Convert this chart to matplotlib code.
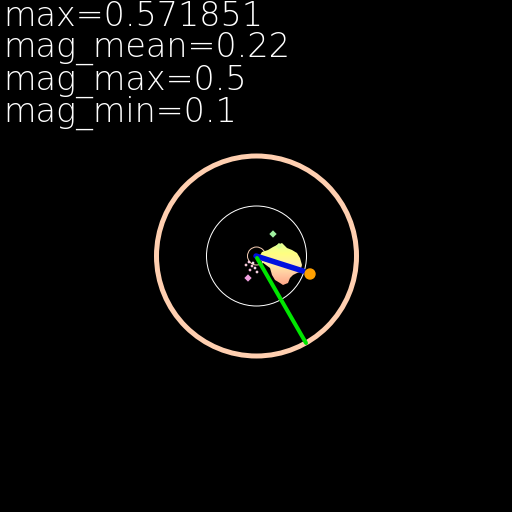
import numpy as np
import matplotlib
matplotlib.use("Agg")
import matplotlib.pyplot as plt
from matplotlib.patches import Circle, Polygon
from matplotlib.colors import LinearSegmentedColormap

# stats printed in the top-left corner
labels = ["max=0.571851", "mag_mean=0.22", "mag_max=0.5", "mag_min=0.1"]
last_baseline = 122

# everything below is in image pixels (origin top-left)
center = (256.5, 256)
ring_radii = [100, 50, 9]
ring_colors = ["#ffcfb0", "white", "#f5cdb4"]
ring_widths = [5, 1, 1]

# outline of the flow blob
blob_x = [259, 262, 268, 273, 277, 282, 287, 292, 297, 300, 302, 300, 297,
          293, 290, 288, 283, 280, 275, 272, 270, 262]
blob_y = [257, 252, 250, 247, 245, 243, 248, 250, 253, 258, 265, 272, 273,
          275, 278, 283, 285, 283, 280, 275, 268, 262]

# stray points
dots_x = [273, 279, 248, 249, 252, 255, 250, 257, 253, 246]
dots_y = [234, 246, 278, 262, 266, 268, 270, 272, 263, 265]
dots_c = ["#a0f0a0", "#d8ff90", "#f0a0e0", "#ffd0e8", "#ffc8e0", "#ffe0f0",
          "#ffc0e0", "#ffd8e8", "#ffe8f0", "#ffd0e0"]
dots_s = [14, 10, 14, 3, 3, 3, 3, 3, 3, 3]

# mean vector (blue) and max vector (green)
mean_vec = ((256, 303), (256, 271))
max_vec = ((257, 306), (258, 343))
mean_tip = (310, 274)

fig = plt.figure(figsize=(5.12, 5.12), dpi=100, facecolor="black")
ax = fig.add_axes([0, 0, 1, 1])
ax.set_facecolor("black")
ax.set_xlim(0, 512)
ax.set_ylim(512, 0)
ax.set_aspect("equal")
ax.axis("off")

px = 72.0 / 100  # points per pixel

for r, c, w in zip(ring_radii, ring_colors, ring_widths):
    ax.add_patch(Circle(center, r, fill=False, ec=c, lw=w * px))

blob = Polygon(np.column_stack([blob_x, blob_y]), closed=True,
               fc="none", ec="none")
ax.add_patch(blob)
cmap = LinearSegmentedColormap.from_list(
    "blob", ["#e8ff98", "#ffff80", "#fff0a8", "#ffc8a0", "#ffa888"])
grad = np.linspace(0, 1, 64).reshape(-1, 1)
im = ax.imshow(grad, cmap=cmap, extent=(min(blob_x), max(blob_x),
               max(blob_y), min(blob_y)), aspect="auto", zorder=2)
im.set_clip_path(blob)
ax.set_xlim(0, 512)
ax.set_ylim(512, 0)

ax.scatter(dots_x, dots_y, s=dots_s, c=dots_c, marker="D", lw=0, zorder=3)

ax.plot(*mean_vec, color="#0010e0", lw=5.5 * px, solid_capstyle="round", zorder=4)
ax.plot(*max_vec, color="#00e600", lw=4 * px, solid_capstyle="round", zorder=4)
ax.add_patch(Circle(mean_tip, 5, color="#ffa000", zorder=5))

# one block of text, baseline of the last line anchored
ax.text(3, last_baseline, "\n".join(labels), color="white", fontsize=24,
        family="DejaVu Sans", fontweight="light", linespacing=0.935,
        va="baseline", ha="left")

fig.savefig("out.png", dpi=100, facecolor="black")
